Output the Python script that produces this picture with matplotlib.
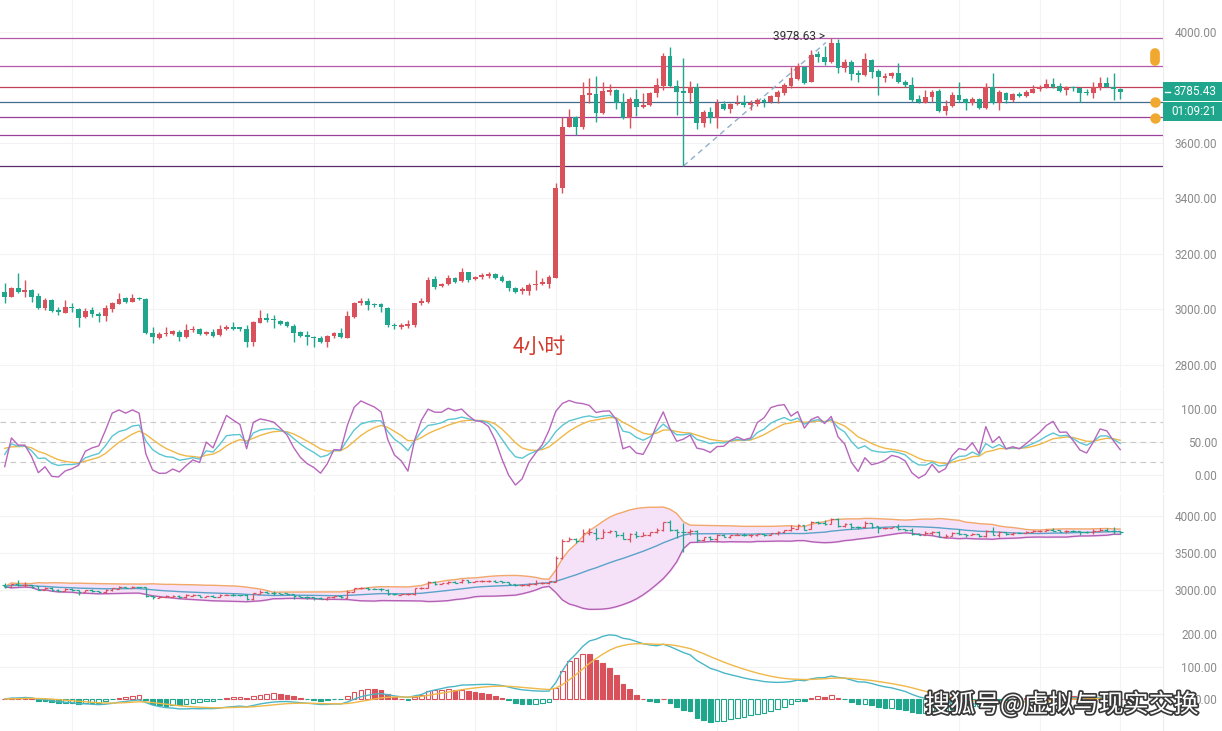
import numpy as np
import pandas as pd
import matplotlib
matplotlib.use('Agg')
import matplotlib.pyplot as plt
import matplotlib.patheffects as pe
from matplotlib.patches import Rectangle
from matplotlib.lines import Line2D
from matplotlib.ticker import FixedLocator, FuncFormatter

plt.rcParams['font.family'] = ['Roboto', 'Noto Sans CJK SC', 'DejaVu Sans']

# 4h candles (index 0 = first full candle on the left)
opens = [3064, 3046, 3076, 3064, 3070, 3048, 3004, 3034, 2998, 2988,
         3010, 3002, 2972, 2998, 2982, 2978, 3002, 3020, 3040, 3028,
         3040, 3038, 2916, 2898, 2912, 2910, 2920, 2902, 2925, 2928,
         2910, 2920, 2908, 2930, 2938, 2934, 2928, 2884, 2952, 2968,
         2964, 2958, 2954, 2940, 2920, 2908, 2902, 2896, 2882, 2904,
         2916, 2898, 2974, 3022, 3030, 3020, 3018, 3005, 2945, 2938,
         2940, 2944, 3022, 3028, 3109, 3085, 3091, 3115, 3103, 3134,
         3109, 3118, 3122, 3127, 3118, 3103, 3079, 3068, 3068, 3088,
         3092, 3092, 3115, 3437, 3659, 3692, 3656, 3773, 3777, 3709,
         3785, 3791, 3749, 3689, 3757, 3731, 3737, 3779, 3807, 3915,
         3807, 3789, 3779, 3801, 3673, 3713, 3689, 3741, 3721, 3741,
         3749, 3737, 3741, 3755, 3749, 3767, 3781, 3805, 3829, 3875,
         3821, 3921, 3911, 3891, 3962, 3869, 3891, 3851, 3845, 3899,
         3861, 3835, 3841, 3851, 3821, 3809, 3759, 3745, 3765, 3787,
         3717, 3733, 3773, 3757, 3743, 3757, 3725, 3801, 3743, 3781,
         3755, 3777, 3769, 3781, 3793, 3801, 3813, 3805, 3791, 3801,
         3797, 3785, 3779, 3797, 3817, 3803, 3793]
highs = [3094, 3082, 3130, 3106, 3074, 3061, 3040, 3036, 3010, 3034,
         3022, 3004, 3004, 3010, 2992, 3016, 3028, 3061, 3045, 3055,
         3046, 3040, 2938, 2920, 2938, 2926, 2926, 2946, 2940, 2932,
         2922, 2930, 2944, 2944, 2954, 2938, 2944, 2958, 2998, 2986,
         2980, 2962, 2958, 2946, 2922, 2922, 2906, 2906, 2908, 2920,
         2934, 2994, 3028, 3040, 3040, 3022, 3024, 3008, 2950, 2952,
         2962, 3025, 3040, 3116, 3121, 3094, 3124, 3118, 3148, 3136,
         3121, 3130, 3134, 3130, 3124, 3106, 3082, 3082, 3097, 3142,
         3115, 3124, 3457, 3695, 3721, 3697, 3821, 3833, 3843, 3819,
         3813, 3793, 3779, 3767, 3793, 3779, 3785, 3833, 3923, 3947,
         3827, 3905, 3825, 3815, 3719, 3731, 3757, 3751, 3743, 3773,
         3773, 3755, 3761, 3761, 3773, 3791, 3815, 3875, 3887, 3877,
         3935, 3933, 3950, 3978.63, 3974, 3902, 3899, 3863, 3926, 3901,
         3866, 3851, 3857, 3890, 3827, 3839, 3773, 3791, 3791, 3793,
         3755, 3785, 3821, 3761, 3767, 3761, 3815, 3851, 3791, 3785,
         3781, 3785, 3791, 3809, 3809, 3829, 3833, 3817, 3805, 3805,
         3803, 3793, 3821, 3839, 3839, 3851, 3797]
lows = [3022, 3045, 3061, 3046, 3028, 3002, 2998, 2992, 2980, 2986,
        2992, 2936, 2968, 2974, 2954, 2958, 2992, 3018, 3023, 3026,
        3034, 2910, 2878, 2894, 2906, 2908, 2888, 2896, 2920, 2908,
        2908, 2902, 2906, 2927, 2925, 2922, 2866, 2868, 2950, 2956,
        2932, 2944, 2936, 2884, 2902, 2872, 2866, 2879, 2866, 2898,
        2896, 2896, 2970, 3016, 2998, 3010, 2990, 2938, 2928, 2930,
        2934, 2936, 3016, 3024, 3073, 3082, 3088, 3094, 3100, 3100,
        3106, 3109, 3115, 3109, 3098, 3068, 3061, 3056, 3052, 3070,
        3088, 3076, 3112, 3418, 3656, 3629, 3649, 3745, 3677, 3704,
        3773, 3721, 3686, 3653, 3697, 3725, 3733, 3767, 3791, 3803,
        3701, 3517, 3743, 3649, 3659, 3671, 3653, 3719, 3707, 3737,
        3731, 3719, 3733, 3731, 3745, 3743, 3773, 3797, 3827, 3813,
        3819, 3893, 3881, 3887, 3851, 3857, 3827, 3821, 3841, 3833,
        3773, 3821, 3833, 3815, 3801, 3749, 3743, 3743, 3749, 3713,
        3701, 3729, 3749, 3719, 3737, 3721, 3721, 3741, 3719, 3745,
        3749, 3767, 3767, 3779, 3789, 3797, 3797, 3785, 3773, 3789,
        3749, 3773, 3761, 3791, 3801, 3755, 3757]
closes = [3046, 3079, 3062, 3070, 3046, 3004, 3034, 2994, 2992, 3008,
          3004, 2970, 2996, 2982, 2976, 3004, 3022, 3036, 3028, 3043,
          3038, 2916, 2900, 2912, 2914, 2924, 2902, 2926, 2930, 2910,
          2920, 2906, 2928, 2938, 2930, 2932, 2884, 2954, 2968, 2962,
          2961, 2949, 2940, 2916, 2906, 2902, 2896, 2882, 2906, 2916,
          2900, 2976, 3024, 3032, 3016, 3016, 3008, 2945, 2940, 2943,
          2946, 3022, 3030, 3106, 3082, 3091, 3112, 3098, 3134, 3106,
          3118, 3124, 3127, 3115, 3103, 3076, 3064, 3073, 3088, 3092,
          3098, 3116, 3437, 3659, 3689, 3659, 3773, 3779, 3709, 3789,
          3791, 3743, 3689, 3757, 3731, 3737, 3781, 3809, 3915, 3807,
          3785, 3779, 3801, 3673, 3713, 3689, 3745, 3721, 3741, 3745,
          3737, 3743, 3755, 3749, 3769, 3785, 3809, 3833, 3877, 3817,
          3917, 3911, 3893, 3962, 3869, 3891, 3849, 3845, 3902, 3857,
          3837, 3841, 3851, 3819, 3809, 3755, 3749, 3765, 3785, 3717,
          3733, 3773, 3755, 3743, 3757, 3725, 3801, 3743, 3785, 3755,
          3777, 3769, 3785, 3793, 3801, 3813, 3803, 3789, 3801, 3797,
          3779, 3781, 3801, 3817, 3803, 3793, 3785.43]

# horizontal drawing levels
level_prices = [3978.63, 3877, 3800, 3748, 3692, 3630, 3517]
level_colors = ['#b45aa8', '#b45aa8', '#c2405a', '#3f6d8e', '#9a3f9a', '#9a3f9a', '#5a2a6a']
trend_from = (101, 3517)
trend_to = (122.2, 3962)
peak_label = '3978.63 >'
last_price = 3785.43
countdown = '01:09:21'
alert_prices = [3748, 3690]

# KDJ values at the left edge
k_start, d_start = 30.0, 45.0

# 3800.00 sits under the last-price box in the original, so it is left out
price_ticks = [2800, 3000, 3200, 3400, 3600, 4000]
kdj_ticks = [0, 50, 100]
boll_ticks = [3000, 3500, 4000]
macd_ticks = [0, 100, 200]

UP = '#d9515a'
DOWN = '#1fa68c'
GRID = '#f3f3f3'
LABEL = '#8a8a8a'

df = pd.DataFrame({'o': opens, 'h': highs, 'l': lows, 'c': closes})
n = len(df)
x = np.arange(n)
up = df['c'] >= df['o']
cols = np.where(up, UP, DOWN)

# KDJ(9,3,3)
llv = df['l'].rolling(9, min_periods=1).min()
hhv = df['h'].rolling(9, min_periods=1).max()
rsv = ((df['c'] - llv) / (hhv - llv) * 100).fillna(50)
k_line, d_line = [], []
kp, dp = k_start, d_start
for r in rsv:
    kp = (2 * kp + r) / 3
    dp = (2 * dp + kp) / 3
    k_line.append(kp)
    d_line.append(dp)
k_line = np.array(k_line)
d_line = np.array(d_line)
j_line = 3 * k_line - 2 * d_line

# BOLL(20,2)
mid = df['c'].rolling(20, min_periods=1).mean()
sd = df['c'].rolling(20, min_periods=1).std(ddof=0)
upper = mid + 2 * sd
lower = mid - 2 * sd

# MACD(12,26,9), histogram as 2*(DIF-DEA)
dif = df['c'].ewm(span=12, adjust=False).mean() - df['c'].ewm(span=26, adjust=False).mean()
dea = dif.ewm(span=9, adjust=False).mean()
hist = 2 * (dif - dea).values

W, H = 1222, 731
fig = plt.figure(figsize=(W / 100, H / 100), dpi=100)
fig.patch.set_facecolor('white')

right = 1163 / W
xlim = ((0 - 4.7) / 6.72, (1163 - 4.7) / 6.72)


def panel(top, bottom, ylim, ticks):
    ax = fig.add_axes([0, 1 - bottom / H, right, (bottom - top) / H])
    ax.set_xlim(*xlim)
    ax.set_ylim(*ylim)
    for s in ['top', 'left', 'bottom']:
        ax.spines[s].set_visible(False)
    ax.spines['right'].set_color('#ececec')
    ax.set_xticks([])
    ax.yaxis.tick_right()
    ax.yaxis.set_major_locator(FixedLocator(ticks))
    ax.yaxis.set_major_formatter(FuncFormatter(lambda v, p: '%.2f' % v))
    ax.tick_params(axis='y', length=0, pad=38.9, labelsize=8.5, labelcolor=LABEL)
    for lab in ax.get_yticklabels():
        lab.set_horizontalalignment('right')
    for t in ticks:
        ax.axhline(t, color=GRID, lw=0.8, zorder=0)
    for gx in range(10, n, 12):
        ax.axvline(gx, color=GRID, lw=0.8, zorder=0)
    return ax


# main candles
ax = panel(0, 388, (4115.3 - 3.604 * 388, 4115.3), price_ticks)
ax.axhline(3800, color=GRID, lw=0.8, zorder=0)
for p, c in zip(level_prices, level_colors):
    ax.axhline(p, color=c, lw=0.9, zorder=1)
ax.plot([trend_from[0], trend_to[0]], [trend_from[1], trend_to[1]],
        ls=(0, (4, 3)), color='#8fb0cc', lw=1, zorder=2)
ax.text(114.3, 3983, peak_label, fontsize=8.5, color='#333333', va='center', ha='left')
ax.vlines(x, df['l'], df['h'], colors=cols, lw=1, zorder=3)
body_lo = np.minimum(df['o'], df['c'])
body_h = np.abs(df['c'] - df['o'])
body_lo = np.where(body_h < 4, body_lo - (4 - body_h) / 2, body_lo)
body_h = np.maximum(body_h, 4)
ax.bar(x, body_h, bottom=body_lo, width=0.72, color=cols, zorder=4)
ax.text(75.6, 2865, '4小时', fontsize=15, color='#d2382c', va='center', ha='left',
        family=['Noto Sans CJK SC', 'DejaVu Sans'])
ax.plot([171.2, 171.2], [3895, 3925], color='#f0a830', lw=7, solid_capstyle='round', zorder=6)
ax.plot([171.2] * len(alert_prices), alert_prices, 'o', color='#f0a830', ms=6.5, zorder=6)

# price boxes on the right scale
fig.add_artist(Rectangle((1163 / W, 1 - 101 / H), 59 / W, 19 / H, transform=fig.transFigure,
                         fc=DOWN, ec='none', zorder=10))
fig.add_artist(Rectangle((1163 / W, 1 - 121 / H), 59 / W, 19 / H, transform=fig.transFigure,
                         fc=DOWN, ec='none', zorder=10))
fig.add_artist(Line2D([1165 / W, 1170 / W], [1 - 91.5 / H] * 2, transform=fig.transFigure,
                      color='white', lw=1, zorder=11))
fig.text(1217 / W, 1 - 91.5 / H, '%.2f' % last_price, color='white', fontsize=8.5,
         va='center', ha='right', zorder=11)
fig.text(1217 / W, 1 - 111.5 / H, countdown, color='white', fontsize=8.5,
         va='center', ha='right', zorder=11)

# KDJ
ax2 = panel(390, 492, (100 - (492 - 409) / 0.66, 100 - (390 - 409) / 0.66), kdj_ticks)
for lv in [20, 50, 80]:
    ax2.axhline(lv, color='#c8c8c8', lw=0.8, ls=(0, (5, 4)), zorder=1)
ax2.plot(x, d_line, color='#f0b848', lw=1, zorder=3)
ax2.plot(x, k_line, color='#5cc6d2', lw=1, zorder=4)
ax2.plot(x, j_line, color='#b866bc', lw=1, zorder=5)

# BOLL with OHLC bars
ax3 = panel(495, 620, (4000 - (620 - 516) * 13.51, 4000 + (516 - 495) * 13.51), boll_ticks)
ax3.fill_between(x, lower, upper, color='#f6e2f8', zorder=1)
ax3.plot(x, upper, color='#f2a86a', lw=1, zorder=2)
ax3.plot(x, lower, color='#b460b4', lw=1, zorder=2)
ax3.plot(x, mid, color='#5aa2c8', lw=1, zorder=2)
ax3.vlines(x, df['l'], df['h'], colors=cols, lw=0.9, zorder=3)
ax3.hlines(df['o'], x - 0.4, x, colors=cols, lw=0.9, zorder=3)
ax3.hlines(df['c'], x, x + 0.4, colors=cols, lw=0.9, zorder=3)

# MACD
ax4 = panel(620, 731, (200 - (731 - 634) * 100 / 32.5, 200 + (634 - 620) * 100 / 32.5), macd_ticks)
prev = np.concatenate([[hist[0]], hist[:-1]])
for i in range(n):
    h = hist[i]
    col = UP if h >= 0 else DOWN
    hollow = h > prev[i]
    ax4.bar(i, h, width=0.7, facecolor='white' if hollow else col, edgecolor=col, lw=0.8, zorder=3)
ax4.plot(x, dif, color='#4ab6c6', lw=1, zorder=4)
ax4.plot(x, dea, color='#f0b848', lw=1, zorder=4)

fig.text(925 / W, 1 - 705 / H, '搜狐号@虚拟与现实交换', fontsize=18, color='white',
         family=['Noto Sans CJK SC', 'DejaVu Sans'], va='center', ha='left', zorder=12,
         path_effects=[pe.withStroke(linewidth=2.5, foreground='#3a3a3a')])

fig.savefig('out.png', dpi=100, facecolor='white')
